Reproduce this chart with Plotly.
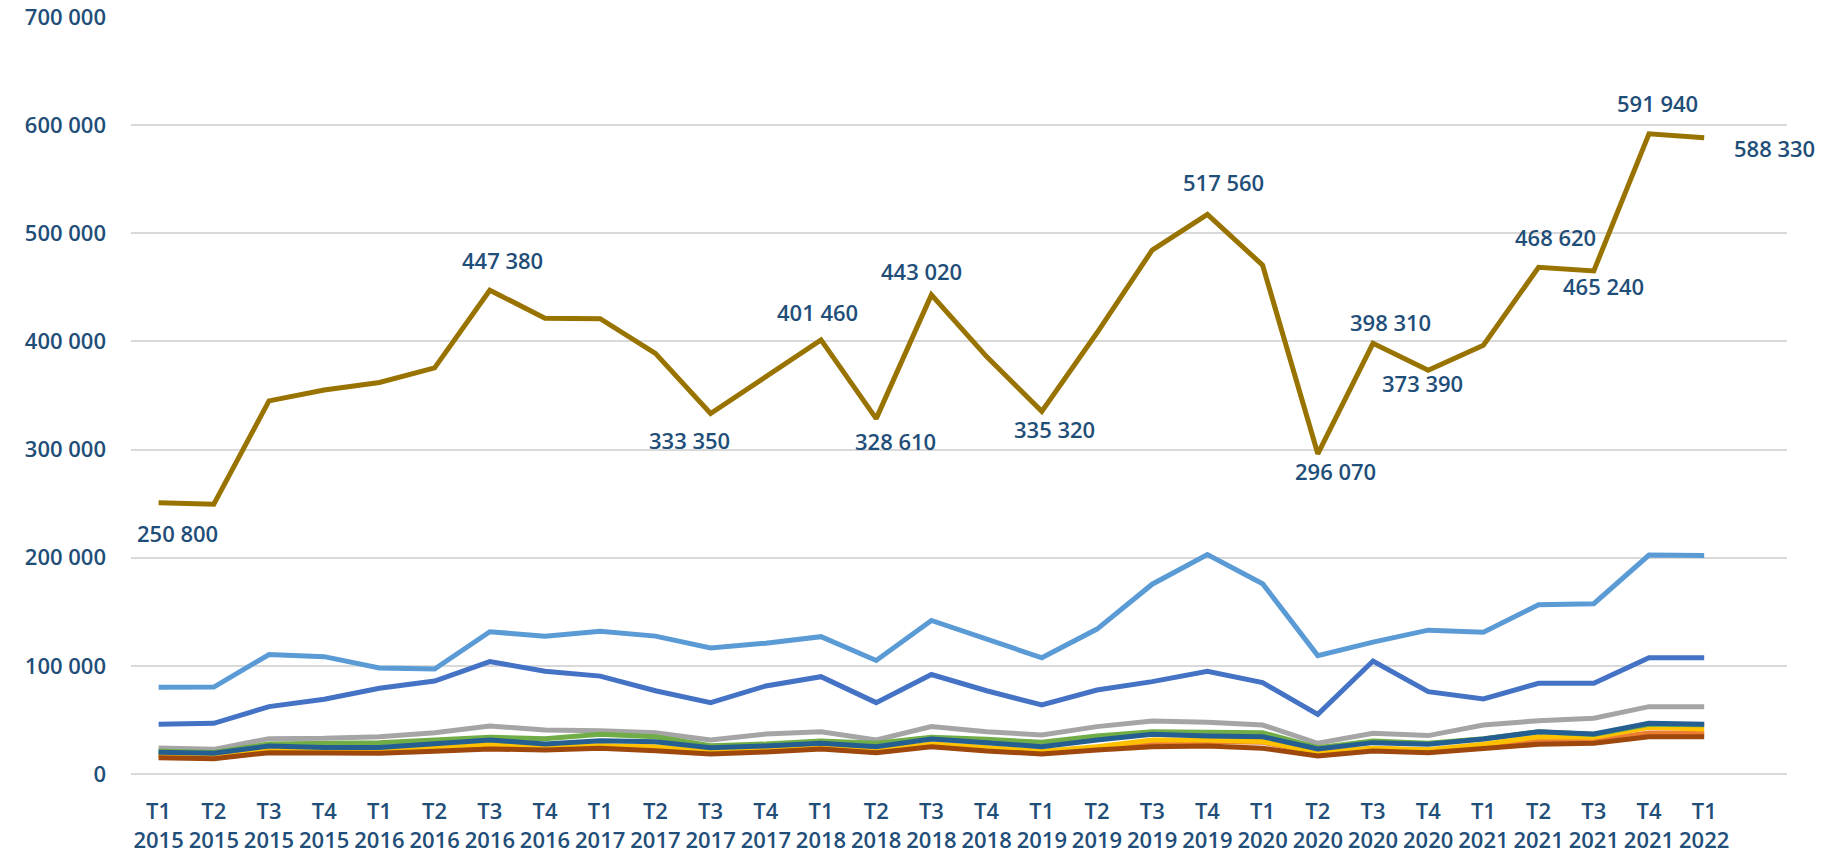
import plotly.graph_objects as go

quarters = ["T1", "T2", "T3", "T4"] * 7 + ["T1"]
years = [str(2015 + i // 4) for i in range(29)]
tick_labels = [f"{q}<br>{y}" for q, y in zip(quarters, years)]

total = [250800, 249500, 345000, 355000, 362000, 375500, 447380, 421500, 421000, 389000,
         333350, 367000, 401460, 328610, 443020, 386000, 335320, 408000, 484500, 517560,
         470500, 296070, 398310, 373390, 396500, 468620, 465240, 591940, 588330]
light_blue = [80200, 80400, 110500, 108500, 98000, 97000, 131500, 127500, 132000, 127500,
              116500, 121000, 127000, 105000, 142000, 125000, 107500, 134000, 175500, 203000,
              176000, 109500, 122000, 133000, 131000, 156500, 157500, 202500, 202000]
blue = [46000, 46900, 62300, 69100, 79300, 86000, 104000, 95000, 90500, 77000,
        66000, 81400, 90000, 66000, 92000, 77000, 63800, 77700, 85400, 95000,
        84500, 55200, 104500, 76100, 69400, 83900, 83900, 107500, 107500]
gray = [24000, 22800, 32700, 33000, 34500, 38200, 44400, 40700, 40100, 38200,
        31500, 37000, 39100, 31500, 43800, 39100, 36100, 43800, 49000, 47800,
        45300, 28400, 37600, 35500, 45300, 49300, 51500, 62300, 62300]
green = [21000, 19800, 27700, 28300, 29000, 31500, 33900, 32700, 36700, 34500,
         26200, 27700, 30500, 28400, 33900, 32100, 29300, 35200, 39100, 38500,
         38200, 24300, 30500, 28500, 32500, 39000, 36500, 46000, 45500]
dark_blue = [20100, 19100, 25900, 24400, 24400, 28300, 31500, 27700, 30800, 29900,
             24300, 25900, 28400, 25300, 32400, 29000, 25300, 31500, 36700, 35200,
             34500, 23100, 29000, 27500, 32400, 39100, 37000, 46900, 46000]
yellow = [17600, 16500, 22500, 22000, 21500, 25000, 27700, 25500, 26200, 25300,
          20600, 22800, 23800, 21500, 27700, 24500, 21000, 25300, 31500, 31500,
          30000, 20100, 23800, 22500, 27500, 34500, 33900, 43200, 41600]
orange = [17000, 16000, 21500, 21500, 21000, 23500, 26000, 25000, 26000, 24500,
          20000, 22000, 24000, 21000, 27000, 23500, 20500, 24500, 28500, 30000,
          29300, 19100, 23500, 22000, 27000, 31000, 31500, 38000, 38000]
brown = [15100, 14200, 19700, 19400, 19100, 21000, 23100, 22200, 23800, 21600,
         18500, 20400, 23100, 19700, 25300, 21300, 18500, 22200, 25300, 25900,
         23800, 16700, 21300, 19700, 23800, 27500, 28400, 34500, 34500]

# which points of the total carry a label, and where (dx, dy in px; dy > 0 = below)
label_idx = [0, 6, 10, 12, 13, 14, 16, 19, 21, 22, 23, 25, 26, 27, 28]
label_off = {0: (19, 30), 6: (13, -30), 10: (-21, 26), 12: (-4, -28), 13: (19, 22),
             14: (-10, -24), 16: (13, 18), 19: (16, -32), 21: (18, 17), 22: (17, -21),
             23: (-6, 13), 25: (17, -30), 26: (10, 15), 27: (8, -31), 28: (70, 10)}

x = list(range(29))
series = [
    (blue, "#4472C4"),
    (orange, "#ED7D31"),
    (gray, "#A5A5A5"),
    (yellow, "#FFC000"),
    (light_blue, "#5B9BD5"),
    (green, "#70AD47"),
    (brown, "#9E480E"),
    (dark_blue, "#255E91"),
    (total, "#997300"),
]

fig = go.Figure()
for vals, col in series:
    fig.add_trace(go.Scatter(x=x, y=vals, mode="lines",
                             line=dict(color=col, width=5, shape="linear"),
                             hoverinfo="skip", showlegend=False))

text_col = "#1F4E79"
font_family = "Open Sans"
font_weight = 600
for i in label_idx:
    dx, dy = label_off[i]
    fig.add_annotation(x=x[i], y=total[i], xref="x", yref="y",
                       text=f"{total[i]:,}".replace(",", " "),
                       showarrow=False, xshift=dx, yshift=-dy,
                       xanchor="center", yanchor="middle",
                       font=dict(family=font_family, size=22, color=text_col, weight=font_weight))

fig.update_layout(
    width=1824, height=858,
    margin=dict(l=131, r=37, t=17, b=84, autoexpand=False),
    paper_bgcolor="white", plot_bgcolor="white",
    separators=". ",
    font=dict(family=font_family, size=22, color=text_col),
    showlegend=False,
)
fig.update_xaxes(range=[-0.5, 29.5], tickvals=x, ticktext=tick_labels,
                 showgrid=False, showline=False, zeroline=False, automargin=False,
                 ticks="", ticklabelstandoff=22,
                 tickfont=dict(family=font_family, size=22, color=text_col, weight=font_weight))
fig.update_yaxes(range=[0, 700000], dtick=100000, tickformat=",d",
                 showgrid=True, gridcolor="#D9D9D9", gridwidth=1.5,
                 zeroline=True, zerolinecolor="#D9D9D9", zerolinewidth=1.5,
                 showline=False, automargin=False, ticks="", ticklabelstandoff=24,
                 tickfont=dict(family=font_family, size=22, color=text_col, weight=font_weight))

fig.write_html("out.html", config={"displayModeBar": False},
               post_script="document.body.style.margin='0';")
